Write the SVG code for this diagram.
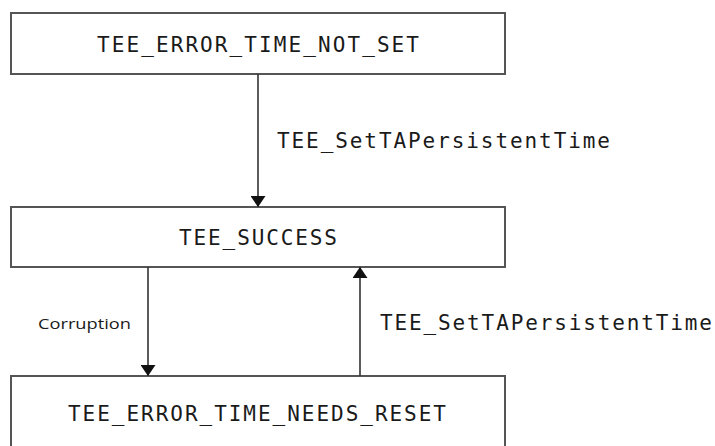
<svg xmlns="http://www.w3.org/2000/svg" width="715" height="446" viewBox="0 0 715 446">
<style>
.box{fill:#fff;stroke:#555;stroke-width:2}
.mono{font-family:"DejaVu Sans Mono","Liberation Mono",monospace;font-size:21px;fill:#1a1a1a}
.sans{font-family:"Open Sans","DejaVu Sans",sans-serif;font-size:14px;fill:#1a1a1a}
.edge{stroke:#333;stroke-width:1.6;fill:none}
</style>
<defs>
<marker id="ah" viewBox="0 0 11 15" refX="11" refY="7.5" markerWidth="11" markerHeight="15" markerUnits="userSpaceOnUse" orient="auto">
<path d="M0,0 L11,7.5 L0,15 Z" fill="#111"/>
</marker>
</defs>
<g id="n1">
<rect class="box" x="11" y="13" width="494" height="61"/>
<text class="mono" x="258" y="52" text-anchor="middle" textLength="322" lengthAdjust="spacing">TEE_ERROR_TIME_NOT_SET</text>
</g>
<g id="n2">
<rect class="box" x="11" y="207" width="494" height="60"/>
<text class="mono" x="258" y="245" text-anchor="middle" textLength="158" lengthAdjust="spacing">TEE_SUCCESS</text>
</g>
<g id="n3">
<rect class="box" x="11" y="376" width="494" height="90"/>
<text class="mono" x="257" y="421" text-anchor="middle" textLength="378" lengthAdjust="spacing">TEE_ERROR_TIME_NEEDS_RESET</text>
</g>
<g id="connectors">
<line class="edge" x1="258" y1="74" x2="258" y2="207" marker-end="url(#ah)"/>
<text class="mono" x="277" y="148" textLength="333" lengthAdjust="spacing">TEE_SetTAPersistentTime</text>
<line class="edge" x1="148" y1="267" x2="148" y2="376" marker-end="url(#ah)"/>
<text class="sans" x="38" y="329" textLength="93" lengthAdjust="spacingAndGlyphs">Corruption</text>
<line class="edge" x1="360" y1="376" x2="360" y2="267" marker-end="url(#ah)"/>
<text class="mono" x="380" y="330" textLength="332" lengthAdjust="spacing">TEE_SetTAPersistentTime</text>
</g>
</svg>
